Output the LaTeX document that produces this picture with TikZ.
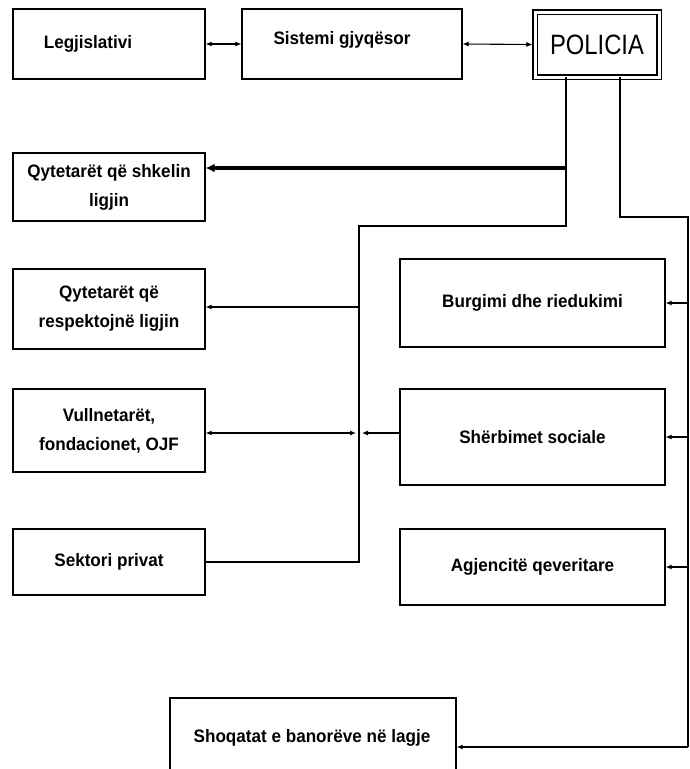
\documentclass[tikz,border=0pt]{standalone}
\usepackage{fontspec}
\setmainfont{Liberation Sans}
\newfontfamily\boxfont[FakeStretch=0.95]{Liberation Sans}
\newfontfamily\polfont[FakeStretch=0.85]{Liberation Sans}
\usetikzlibrary{arrows.meta}
\tikzset{
  box/.style={draw, line width=1.1pt, inner sep=0pt, align=center,
    font=\boxfont\bfseries\fontsize{18}{29}\selectfont},
  lbl/.style={inner sep=0pt, align=center, font=\boxfont\bfseries\fontsize{18}{29}\selectfont},
  conn/.style={line width=1.1pt},
  arr/.style={conn, -{Latex[length=6pt,width=5pt]}},
  darr/.style={conn, {Latex[length=6pt,width=5pt]}-{Latex[length=6pt,width=5pt]}},
}
\begin{document}
\begin{tikzpicture}[x=1pt, y=-1pt]
\clip (0,0) rectangle (690,769);
\fill[white] (0,0) rectangle (690,769);
% top row
\node[box, minimum width=192pt, minimum height=70pt] (leg) at (109,44) {};
\node[lbl] (legt) at (88,44) {Legjislativi};
\node[box, minimum width=220pt, minimum height=70pt] (sis) at (352,44) {};
\node[lbl] (sist) at (342,40) {Sistemi gjyqësor};
\node[draw, double, double distance=3pt, line width=1.1pt, inner sep=0pt,
      minimum width=124pt, minimum height=65pt,
      font=\polfont\fontsize{28}{28}\selectfont] (pol) at (597,44.5) {POLICIA};
% left column
\node[box, minimum width=192pt, minimum height=68pt] (shk) at (109,187) {Qytetarët që shkelin\\ligjin};
\node[box, minimum width=192pt, minimum height=80pt] (res) at (109,309) {Qytetarët që\\respektojnë ligjin};
\node[box, minimum width=192pt, minimum height=83pt] (vul) at (109,430.5) {Vullnetarët,\\fondacionet, OJF};
\node[box, minimum width=192pt, minimum height=66pt] (sek) at (109,562) {Sektori privat};
% right column
\node[box, minimum width=265pt, minimum height=88pt] (bur) at (532.5,303) {Burgimi dhe riedukimi};
\node[box, minimum width=265pt, minimum height=96pt] (sher) at (532.5,437) {Shërbimet sociale};
\node[box, minimum width=265pt, minimum height=76pt] (agj) at (532.5,567) {Agjencitë qeveritare};
% bottom
\node[box, minimum width=286pt, minimum height=102pt] (sho) at (313,749) {};
\node[lbl] (shot) at (312,738) {Shoqatat e banorëve në lagje};
% top arrows
\draw[darr] (leg.east) -- (sis.west);
\draw[darr] (sis.east) -- ([xshift=-2pt]pol.west);
% left trunk
\coordinate (pA) at (566,77);
\coordinate (pB) at (566,226);
\coordinate (pC) at (359,226);
\coordinate (pD) at (359,562);
\draw[conn] (pA) -- (pB) -- (pC) -- (pD) -- (sek.east);
\coordinate (t1) at (566,168);
\draw[line width=3.2pt, -{Latex[length=9pt,width=9pt]}] (t1) -- (shk.east |- t1);
\coordinate (r1) at (359,307);
\draw[arr] (r1) -- (res.east |- r1);
\coordinate (v1) at (356,433);
\draw[darr] (vul.east |- v1) -- (v1);
\coordinate (v2) at (362,433);
\draw[arr] (sher.west |- v2) -- (v2);
% right trunk
\coordinate (qA) at (620,77);
\coordinate (qB) at (620,217);
\coordinate (qC) at (688,217);
\coordinate (qD) at (688,747);
\draw[conn] (qA) -- (qB) -- (qC) -- (qD);
\draw[arr] (qD) -- (sho.east |- qD);
\draw[arr] (qC |- bur.east) -- (bur.east);
\draw[arr] (qC |- sher.east) -- (sher.east);
\draw[arr] (qC |- agj.east) -- (agj.east);
\end{tikzpicture}
\end{document}
